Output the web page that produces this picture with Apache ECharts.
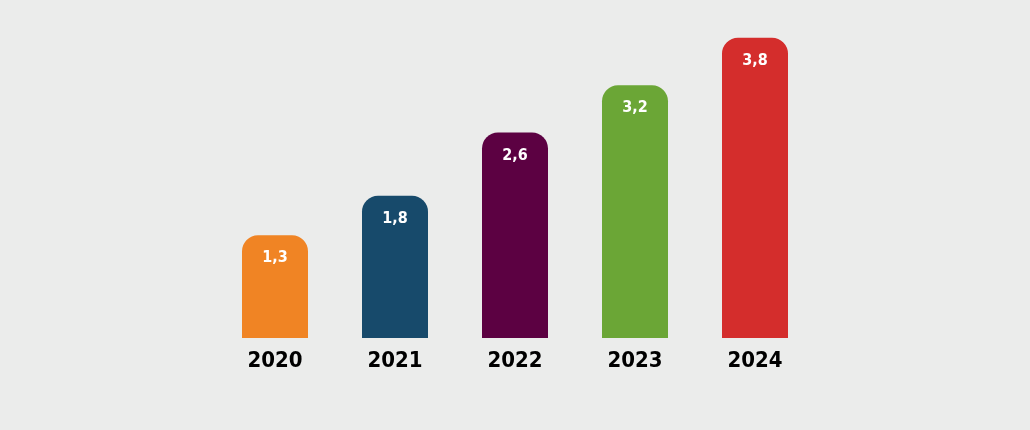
<!DOCTYPE html>
<html><head><meta charset="utf-8">
<script src="https://cdn.jsdelivr.net/npm/echarts@6/dist/echarts.min.js"></script>
<style>html,body{margin:0;padding:0;background:#ebeceb;}#c{width:1030px;height:430px;}</style>
</head><body><div id="c"></div>
<script>
const categories = ['2020','2021','2022','2023','2024'];
const values = [1.3, 1.8, 2.6, 3.2, 3.8];
const colors = ['#f08424','#174a6b','#5c0142','#6ba636','#d42d2c'];
const chart = echarts.init(document.getElementById('c'));
const FONT = '"DejaVu Sans Condensed", "DejaVu Sans", sans-serif';
chart.setOption({
  backgroundColor: '#ebeceb',
  animation: false,
  grid: {left: 215, right: 215, top: 22, bottom: 92, containLabel: false},
  xAxis: {
    type: 'category', data: categories,
    axisLine: {show: false}, axisTick: {show: false},
    axisLabel: {color: '#000', fontSize: 22, fontWeight: 'bold', fontFamily: FONT, margin: 12}
  },
  yAxis: {type: 'value', min: 0, max: 4, show: false, splitLine: {show: false}},
  series: [{
    type: 'bar', barWidth: 66,
    data: values.map((v, i) => ({value: v, itemStyle: {color: colors[i]}})),
    itemStyle: {borderRadius: [16, 16, 0, 0]},
    label: {
      show: true, position: 'insideTop', distance: 15,
      color: '#fff', fontSize: 16, fontWeight: 'bold', fontFamily: FONT,
      formatter: p => String(p.value).replace('.', ',')
    }
  }]
});
</script></body></html>
